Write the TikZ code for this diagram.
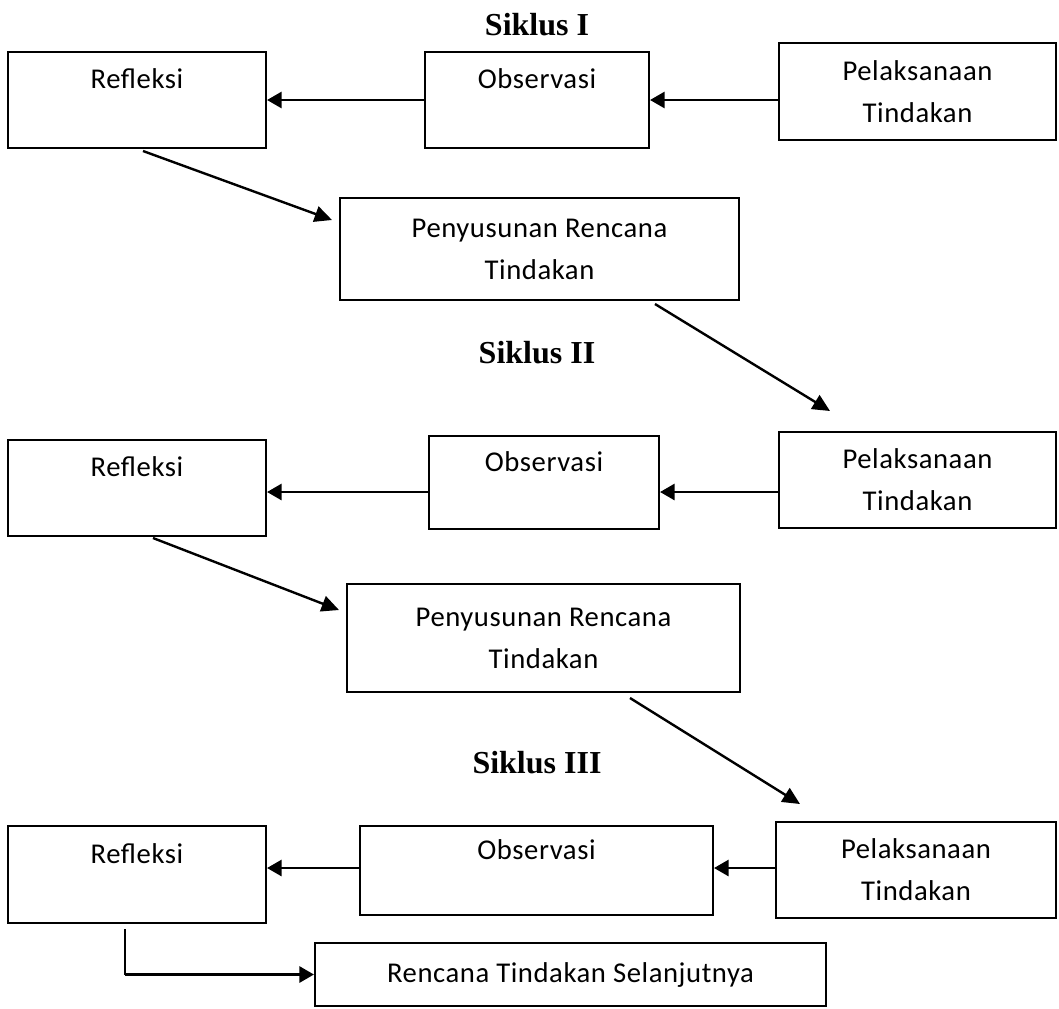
\documentclass[tikz,border=0pt]{standalone}
\usepackage{fontspec}
\setmainfont{Carlito}[LetterSpace=2]
\newfontfamily\tnr{Liberation Serif}
\usetikzlibrary{arrows.meta,calc}
\begin{document}
\begin{tikzpicture}[x=0.75pt,y=-0.75pt,
  box/.style={draw,line width=1.5pt,inner sep=0pt,align=center,
    font=\fontsize{21.5}{31.5}\selectfont},
  ttl/.style={font=\tnr\bfseries\fontsize{24}{28}\selectfont,inner sep=0pt},
  arr/.style={line width=2.2pt,-{Triangle[length=11pt,width=12pt]}},
  darr/.style={line width=1.8pt,-{Triangle[length=13pt,width=12pt]}}]
\useasboundingbox (0,0) rectangle (1059,1008);
% Siklus I
\node[ttl] (s1) at (537,24.5) {Siklus I};
\node[box,minimum width=258*0.75pt,minimum height=96*0.75pt] (r1) at (137,100) {Refleksi\\\mbox{}};
\node[box,minimum width=224*0.75pt,minimum height=96*0.75pt] (o1) at (537,100) {Observasi\\\mbox{}};
\node[box,minimum width=277*0.75pt,minimum height=97*0.75pt] (p1) at (917.5,91.5) {Pelaksanaan\\Tindakan};
\node[box,minimum width=399*0.75pt,minimum height=102*0.75pt] (n1) at (539.5,249) {Penyusunan Rencana\\Tindakan};
% Siklus II
\node[ttl] (s2) at (537,353) {Siklus II};
\node[box,minimum width=258*0.75pt,minimum height=96*0.75pt] (r2) at (137,488) {Refleksi\\\mbox{}};
\node[box,minimum width=230*0.75pt,minimum height=93*0.75pt] (o2) at (544,482.5) {Observasi\\\mbox{}};
\node[box,minimum width=277*0.75pt,minimum height=96*0.75pt] (p2) at (917.5,480) {Pelaksanaan\\Tindakan};
\node[box,minimum width=393*0.75pt,minimum height=108*0.75pt] (n2) at (543.5,638) {Penyusunan Rencana\\Tindakan};
% Siklus III
\node[ttl] (s3) at (537,763) {Siklus III};
\node[box,minimum width=258*0.75pt,minimum height=97*0.75pt] (r3) at (137,874.5) {Refleksi\\\mbox{}};
\node[box,minimum width=353*0.75pt,minimum height=89*0.75pt] (o3) at (536.5,870.5) {Observasi\\\mbox{}};
\node[box,minimum width=280*0.75pt,minimum height=96*0.75pt] (p3) at (916,870) {Pelaksanaan\\Tindakan};
\node[box,minimum width=511*0.75pt,minimum height=63*0.75pt] (f) at (570.5,974.5) {Rencana Tindakan Selanjutnya};
% horizontal arrows
\draw[arr] (p1.west |- o1.east) -- (o1.east);
\draw[arr] (o1.west) -- (o1.west -| r1.east);
\draw[arr] (p2.west |- {(0,492)}) -- (o2.east |- {(0,492)});
\draw[arr] (o2.west |- {(0,492)}) -- (r2.east |- {(0,492)});
\draw[arr] (p3.west |- {(0,868)}) -- (o3.east |- {(0,868)});
\draw[arr] (o3.west |- {(0,868)}) -- (r3.east |- {(0,868)});
% diagonal arrows
\draw[darr] ($(r1.south)+(6,2)$) -- ($(n1.west)+(-7,-29)$);
\draw[darr] ($(n1.south)+(115.5,3)$) -- ($(p2.north)+(-87.5,-20)$);
\draw[darr] ($(r2.south)+(16,1)$) -- ($(n2.west)+(-7,-28)$);
\draw[darr] ($(n2.south)+(86.5,5)$) -- ($(p3.north)+(-116,-17)$);
% elbow
\coordinate (e) at ($(r3.south)+(-12,5)$);
\draw[line width=1.1pt] (e) -- (e |- f.west);
\draw[arr] (e |- f.west) -- (f.west);
\end{tikzpicture}
\end{document}
